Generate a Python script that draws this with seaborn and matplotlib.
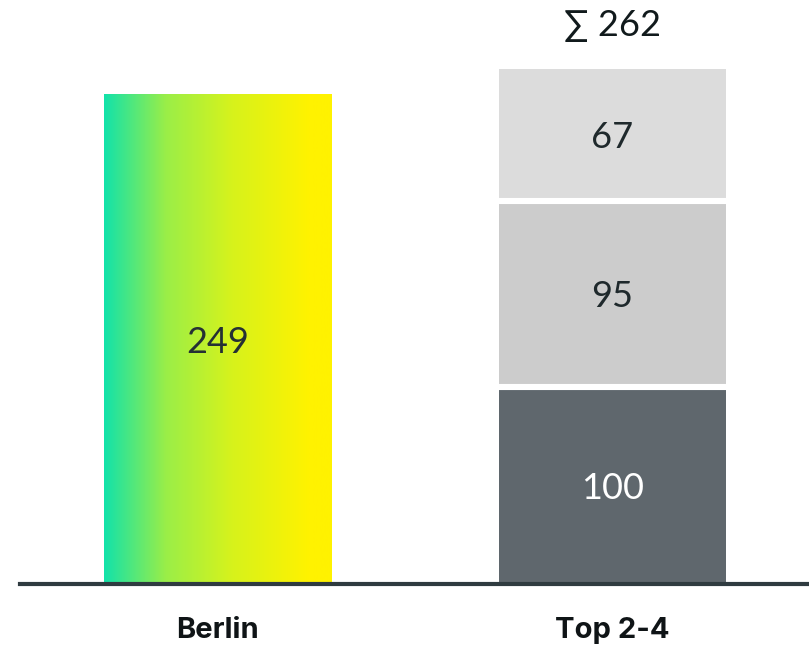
import numpy as np
import pandas as pd
import matplotlib
matplotlib.use("Agg")
import matplotlib.pyplot as plt
from matplotlib.colors import LinearSegmentedColormap
import seaborn as sns

# Data
categories = ["Berlin", "Top 2-4"]
berlin_value = 249
top_segments = [100, 95, 67]          # bottom to top
segment_colors = ["#5f676d", "#cccccc", "#dcdcdc"]
segment_text_colors = ["#ffffff", "#1f292c", "#1f292c"]
total_label = "\u2211 262"

sns.set_theme(style="white")
plt.rcParams["font.family"] = ["Lato", "DejaVu Sans"]

fig = plt.figure(figsize=(8.09, 6.48), dpi=100)
ax = fig.add_axes([20 / 809, (648 - 584) / 648, 790 / 809, 584 / 648])

bar_width = 0.575
dark_text = "#253034"
num_size = 26

# Base bars through seaborn
df = pd.DataFrame({"cat": categories, "val": [berlin_value, top_segments[0]]})
sns.barplot(data=df, x="cat", y="val", order=categories, width=bar_width,
            color="#ffffff", ax=ax, saturation=1, linewidth=0)

patches = list(ax.patches)
berlin_patch = patches[0]

# Gradient fill for the Berlin bar
cmap = LinearSegmentedColormap.from_list(
    "berlin",
    [(0.0, "#12e2aa"), (0.27, "#9aee48"), (0.56, "#d6f31c"),
     (0.9, "#fff200"), (1.0, "#fff200")])
x0 = berlin_patch.get_x()
x1 = x0 + berlin_patch.get_width()
grad = np.linspace(0, 1, 256).reshape(1, -1)
im = ax.imshow(grad, cmap=cmap, aspect="auto",
               extent=[x0, x1, 0, berlin_value], zorder=2)
im.set_clip_path(berlin_patch)

# Stacked segments for the second bar
bottom = 0
bounds = []
for val, col, tcol in zip(top_segments, segment_colors, segment_text_colors):
    ax.bar(1, val, bottom=bottom, width=bar_width, color=col,
           linewidth=0, zorder=2)
    ax.text(1, bottom + val / 2, str(val), ha="center", va="center_baseline",
            fontsize=num_size, color=tcol, zorder=3)
    bottom += val
    bounds.append(bottom)

# White separators between stacked segments
ax.hlines(bounds[:-1], 1 - bar_width / 2 - 0.01, 1 + bar_width / 2 + 0.01,
          colors="white", linewidth=4.4, zorder=2.5)

ax.text(0, berlin_value / 2, str(berlin_value), ha="center",
        va="center_baseline", fontsize=num_size, color=dark_text, zorder=3)

ax.annotate(total_label, xy=(1, bottom), xytext=(0, 19),
            textcoords="offset points", ha="center", va="bottom",
            fontsize=num_size, color="#111a1c")

ax.set_xlim(-0.5, 1.5)
ax.set_ylim(0, 297)
ax.set_xlabel("")
ax.set_ylabel("")
ax.set_yticks([])
ax.set_xticks([0, 1])
ax.set_xticklabels(categories, fontsize=21, fontweight="bold",
                   color="#0f1416", family=["Inter", "DejaVu Sans"])
ax.tick_params(axis="x", length=0, pad=24)

for side in ["left", "right", "top"]:
    ax.spines[side].set_visible(False)
ax.spines["bottom"].set_color("#2f3b40")
ax.spines["bottom"].set_linewidth(3)
ax.spines["bottom"].set_zorder(4)

fig.savefig("out.png", dpi=100)
